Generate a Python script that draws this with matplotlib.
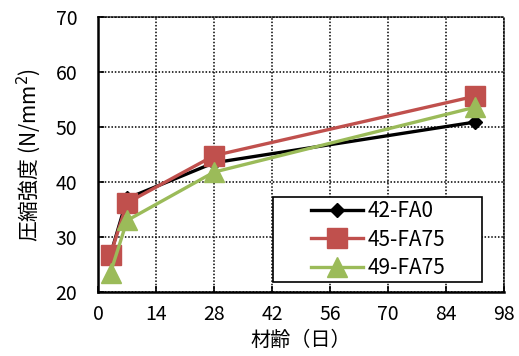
import matplotlib
matplotlib.use("Agg")
import matplotlib.pyplot as plt
from matplotlib.patches import Rectangle

plt.rcParams['font.family'] = ['Noto Sans CJK JP', 'DejaVu Sans']

days = [3, 7, 28, 91]
fa0 = [26.8, 37.0, 43.5, 50.9]
fa75_45 = [26.8, 36.2, 44.8, 55.6]
fa75_49 = [23.5, 33.0, 41.8, 53.6]
labels = ['42-FA0', '45-FA75', '49-FA75']
xticks = [0, 14, 28, 42, 56, 70, 84, 98]
yticks = [20, 30, 40, 50, 60, 70]

fig = plt.figure(figsize=(5.19, 3.56), dpi=100)
ax = fig.add_axes([0.189, 0.180, 0.782, 0.772])

ax.plot(days, fa0, color='black', lw=2.4, marker='D', ms=7, label=labels[0], zorder=3)
ax.plot(days, fa75_45, color='#C0504D', lw=2.4, marker='s', ms=14, label=labels[1], zorder=4)
ax.plot(days, fa75_49, color='#9BBB59', lw=2.4, marker='^', ms=15, label=labels[2], zorder=5)

ax.set_xlim(0, 98)
ax.set_ylim(20, 70)
ax.set_xticks(xticks)
ax.set_yticks(yticks)
ax.grid(True, color='black', linestyle=(0, (1, 1.2)), linewidth=1.1)
ax.tick_params(direction='in', labelsize=14, length=4, width=1.2)
ax.tick_params(axis='x', pad=9)
ax.tick_params(axis='y', pad=15)
for s in ['top', 'right']:
    ax.spines[s].set_linestyle((0, (1, 1.2)))
    ax.spines[s].set_linewidth(1.1)
for s in ['left', 'bottom']:
    ax.spines[s].set_linewidth(1.8)

ax.set_xlabel('材齢（日）', fontsize=14.5, labelpad=3)
ax.set_ylabel('圧縮強度 (N/mm$^2$)', fontsize=15, labelpad=9)

# legend frame box
box = Rectangle((0.431, 0.036), 0.515, 0.309, transform=ax.transAxes,
                facecolor='white', edgecolor='black', linewidth=1.2, zorder=6)
ax.add_patch(box)
leg = ax.legend(loc='center', bbox_to_anchor=(0.690, 0.19), fontsize=15,
                frameon=False, handlelength=2.5, borderpad=0.0,
                labelspacing=0.3, handletextpad=0.25)
leg.set_zorder(7)

fig.savefig('out.png', dpi=100)
